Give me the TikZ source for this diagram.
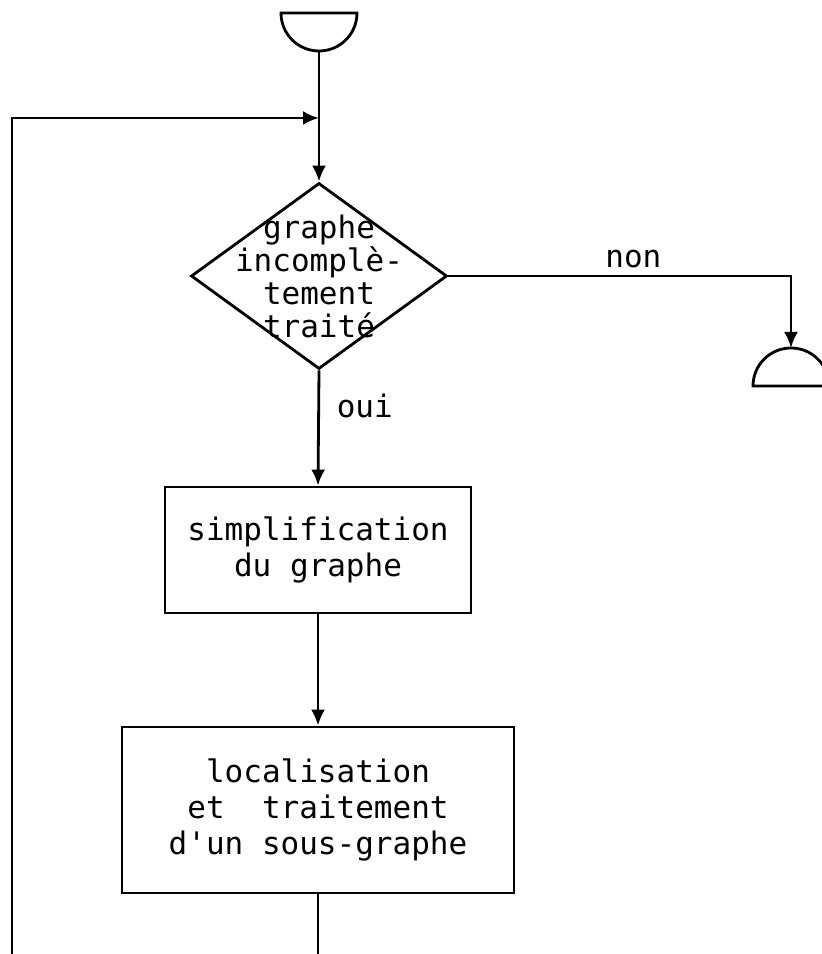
\documentclass[tikz,border=0pt]{standalone}
\usepackage{fontspec}
\setmonofont{DejaVu Sans Mono}
\usetikzlibrary{shapes.geometric,arrows.meta}
\begin{document}
\begin{tikzpicture}[x=0.5pt,y=0.5pt,
  font=\ttfamily\fontsize{15.5}{18}\selectfont,
  line width=1.4pt,
  flow/.style={-{Latex[length=8pt,width=7pt]}},
  procbox/.style={draw, rectangle, align=center, inner sep=0pt},
  testbox/.style={draw, diamond, inner sep=0pt}]
% Frame: 822 x 954 units, origin bottom left
\useasboundingbox (0,0) rectangle (822,954);

% Start terminal (half disc, flat side up)
\draw (281,941) arc (180:360:38) -- cycle;
\coordinate (start) at (319,903);

% Decision
\node[testbox, minimum width=128pt, minimum height=93pt,
      label={[align=center, font=\ttfamily\fontsize{15.5}{16.5}\selectfont]center:graphe\\incomplè-\\tement\\traité}]
      (test) at (319,678) {};

% Processing steps
\node[procbox, minimum width=153pt, minimum height=63pt]
      (simpl) at (318,404) {simplification\\du graphe};
\node[procbox, minimum width=196pt, minimum height=83pt]
      (local) at (318,144) {localisation\\et\ \ traitement\\d'un sous-graphe};

% End terminal (half disc, flat side down)
\draw (753,568) arc (180:0:38) -- cycle;
\coordinate (stop) at (791,606);

% Loop points
\coordinate (merge) at (319,836);
\coordinate (loopdown) at (318,0);
\coordinate (loopup) at (12,0);

% Connectors
\draw[flow] (start) -- (test.north);
\draw[flow] (test.east) -| node[pos=0.27, above=0pt] {non} (stop);
\draw[flow] (test.south) -- node[pos=0.31, right=5pt] {oui} (simpl.north);
\draw[flow] (simpl.south) -- (local.north);
\draw (local.south) -- (loopdown);
\draw[flow] (loopup) |- (merge);
\end{tikzpicture}
\end{document}
